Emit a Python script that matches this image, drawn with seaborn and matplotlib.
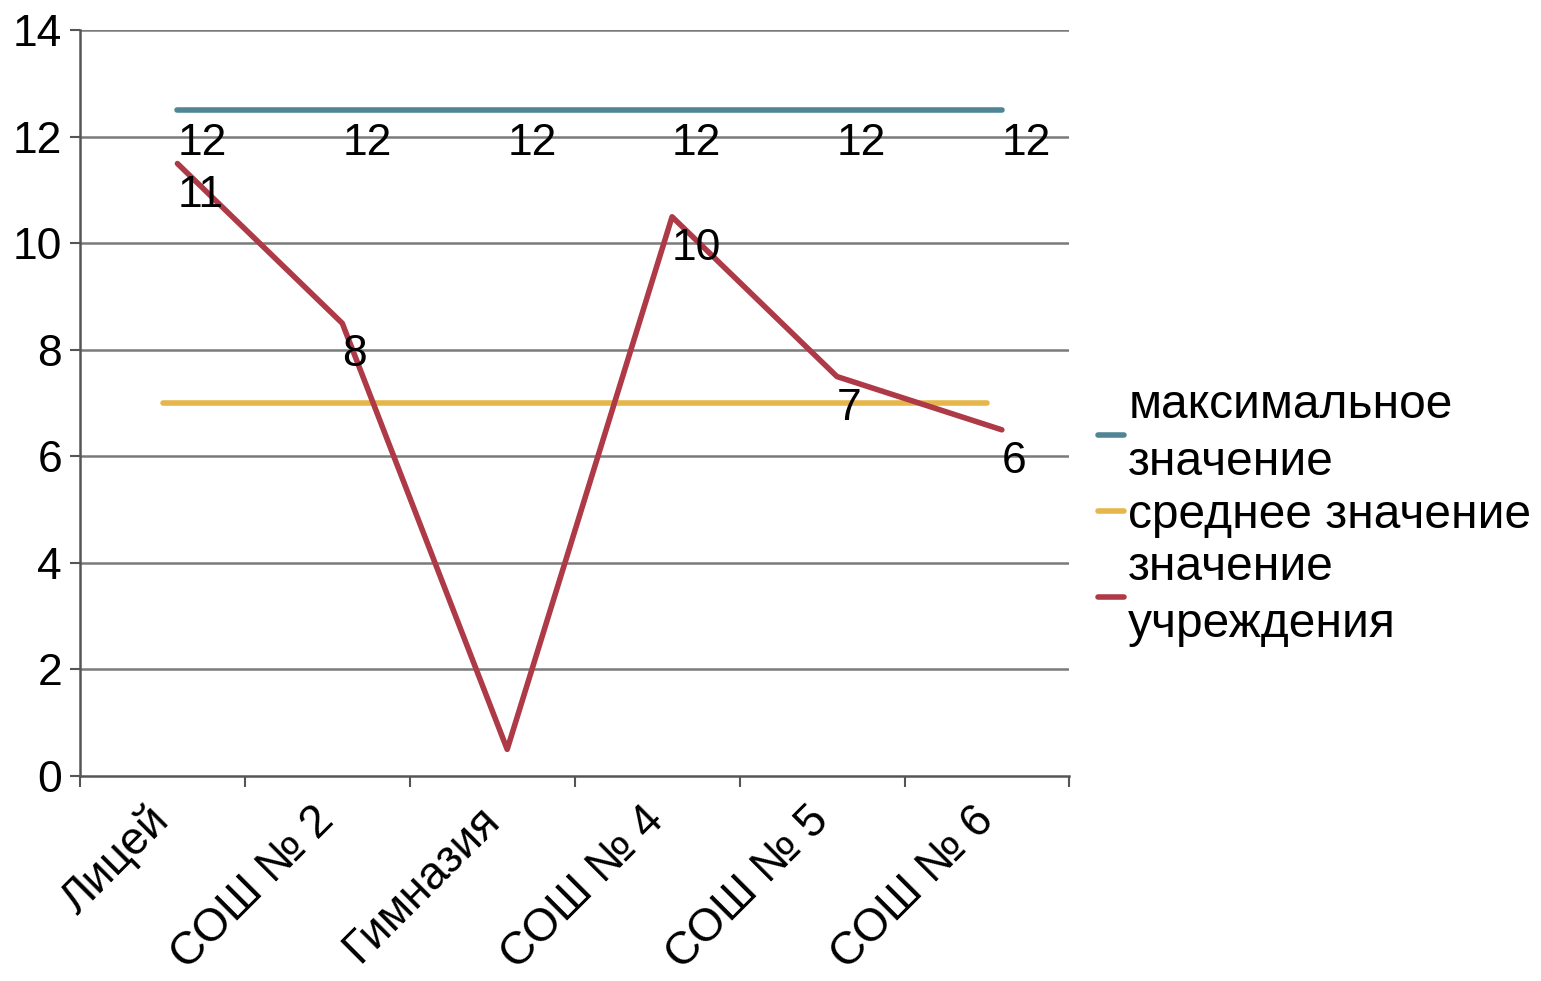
import numpy as np
import pandas as pd
import matplotlib.pyplot as plt
import seaborn as sns

# data
schools = ['Лицей', 'СОШ № 2', 'Гимназия', 'СОШ № 4', 'СОШ № 5', 'СОШ № 6']
max_vals = [12.5, 12.5, 12.5, 12.5, 12.5, 12.5]
avg_vals = [7, 7, 7, 7, 7, 7]
inst_vals = [11.5, 8.5, 0.5, 10.5, 7.5, 6.5]
max_labels = ['12', '12', '12', '12', '12', '12']
inst_labels = ['11', '8', '', '10', '7', '6']
series_names = ['максимальное\nзначение', 'среднее значение', 'значение\nучреждения']
colors = ['#4f8594', '#e6b64a', '#ad3a46']

sns.set_theme(style='white')
plt.rcParams['font.family'] = ['Liberation Sans', 'DejaVu Sans']
plt.rcParams['text.color'] = 'black'
plt.rcParams['xtick.color'] = 'black'
plt.rcParams['ytick.color'] = 'black'

x = np.arange(len(schools))
shift = 0.09  # the chart draws max / institution lines a bit to the right
df = pd.concat([
    pd.DataFrame({'x': x + shift, 'y': max_vals, 'series': series_names[0]}),
    pd.DataFrame({'x': x, 'y': avg_vals, 'series': series_names[1]}),
    pd.DataFrame({'x': x + shift, 'y': inst_vals, 'series': series_names[2]}),
])

fig = plt.figure(figsize=(15.41, 9.81), dpi=100)
ax = fig.add_axes([0.052, 0.209, 0.642, 0.760])

for yv in range(2, 15, 2):
    ax.axhline(yv, color='#7a7a7a', lw=1.8, zorder=0)

sns.lineplot(data=df, x='x', y='y', hue='series', palette=colors,
             linewidth=4, ax=ax, legend=False, zorder=3)

for i in range(len(schools)):
    ax.annotate(max_labels[i], (x[i] + shift, max_vals[i]), xytext=(0, -9),
                textcoords='offset points', ha='left', va='top', fontsize=32)
    if inst_labels[i]:
        ax.annotate(inst_labels[i], (x[i] + shift, inst_vals[i]), xytext=(0, -8),
                    textcoords='offset points', ha='left', va='top', fontsize=32)

ax.set_xlim(-0.5, len(schools) - 0.5)
ax.set_ylim(0, 14)
ax.set_yticks(range(0, 15, 2))
ax.tick_params(axis='y', labelsize=32, length=7, width=1.5, color='#555555',
               direction='out', left=True, pad=6)

ax.set_xticks(np.arange(-0.5, len(schools), 1))
ax.set_xticklabels([])
ax.set_xticks(x, minor=True)
ax.set_xticklabels(schools, minor=True, rotation=45, ha='right',
                   rotation_mode='anchor', va='center', fontsize=33)
ax.tick_params(axis='x', which='major', length=8, width=1.5, color='#555555',
               direction='out', bottom=True)
ax.tick_params(axis='x', which='minor', length=0, pad=27)
ax.set_xlabel('')
ax.set_ylabel('')

for s in ['top', 'right']:
    ax.spines[s].set_visible(False)
for s in ['left', 'bottom']:
    ax.spines[s].set_color('#555555')
    ax.spines[s].set_linewidth(1.8)

handles = [plt.Line2D([], [], color=c, lw=4) for c in colors]
leg = fig.legend(handles, series_names, loc='center left', bbox_to_anchor=(0.7125, 0.475),
                 frameon=False, fontsize=34.5, handlelength=0.55, handletextpad=0.08,
                 labelspacing=0.15, borderpad=0, borderaxespad=0)
for t in leg.get_texts():
    t.set_linespacing(1.35)

fig.savefig('out.png', dpi=100)
